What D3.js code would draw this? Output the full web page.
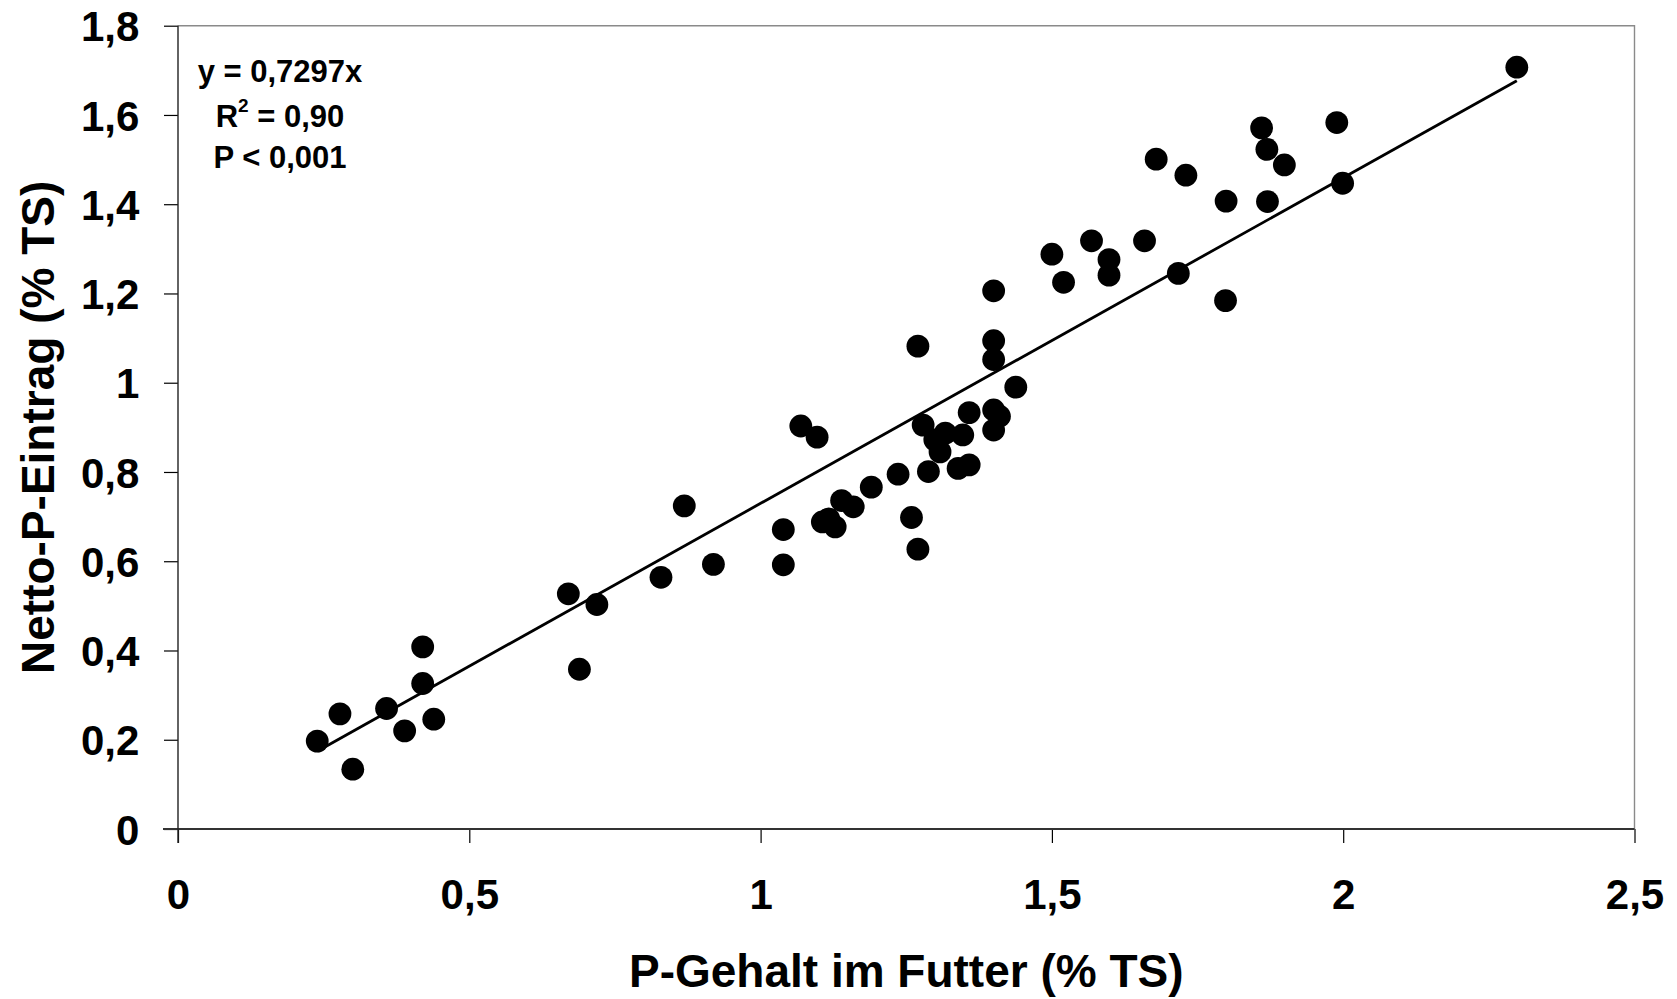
<!DOCTYPE html>
<html>
<head>
<meta charset="utf-8">
<script src="https://cdn.jsdelivr.net/npm/d3@7"></script>
<style>
  html, body { margin: 0; padding: 0; background: #fff; }
  svg { display: block; }
  text { font-family: "Liberation Sans", Arial, Helvetica, sans-serif; font-weight: bold; fill: #000; }
</style>
</head>
<body>
<script>
// ---- data ----
const xValues = [0.239,0.278,0.300,0.358,0.389,0.420,0.420,0.439,0.670,0.689,0.719,0.829,0.869,0.919,
  1.039,1.039,1.069,1.097,1.106,1.117,1.128,1.139,1.159,1.190,1.236,1.259,1.270,1.270,1.279,1.288,
  1.299,1.308,1.317,1.339,1.347,1.358,1.358,1.400,1.400,1.400,1.400,1.400,1.410,1.438,1.500,1.520,
  1.568,1.598,1.598,1.659,1.679,1.717,1.730,1.798,1.799,1.860,1.869,1.870,1.899,1.989,1.999,2.298];
const yValues = [0.197,0.258,0.134,0.270,0.220,0.408,0.326,0.246,0.527,0.358,0.503,0.564,0.724,0.593,
  0.671,0.592,0.903,0.878,0.688,0.695,0.677,0.736,0.722,0.766,0.795,0.698,0.627,1.082,0.905,0.801,
  0.872,0.845,0.887,0.808,0.883,0.933,0.816,1.206,1.094,1.052,0.939,0.894,0.925,0.990,1.288,1.225,
  1.318,1.276,1.241,1.318,1.501,1.245,1.465,1.184,1.407,1.571,1.523,1.406,1.488,1.583,1.447,1.707];
const slope = 0.7297;
const xTicks = [0, 0.5, 1, 1.5, 2, 2.5];
const xTickLabels = ["0", "0,5", "1", "1,5", "2", "2,5"];
const yTicks = [0, 0.2, 0.4, 0.6, 0.8, 1, 1.2, 1.4, 1.6, 1.8];
const yTickLabels = ["0", "0,2", "0,4", "0,6", "0,8", "1", "1,2", "1,4", "1,6", "1,8"];
const xTitle = "P-Gehalt im Futter (% TS)";
const yTitle = "Netto-P-Eintrag (% TS)";
const annEquation = "y = 0,7297x";
const annR2Value = " = 0,90";
const annP = "P < 0,001";

// ---- layout ----
const W = 1677, H = 999;
const L = 178, R = 1634.5, T = 25.7, B = 829;

const svg = d3.select("body").append("svg").attr("width", W).attr("height", H);

const x = d3.scaleLinear().domain([0, 2.5]).range([L, R]);
const y = d3.scaleLinear().domain([0, 1.8]).range([B, T]);

// plot border (top/right grey)
svg.append("path")
  .attr("d", `M${L},${T}H${R}V${B}`)
  .attr("fill", "none").attr("stroke", "#8a8a8a").attr("stroke-width", 1.4);

// x axis
const xAxis = d3.axisBottom(x).tickValues(xTicks)
  .tickFormat((d, i) => xTickLabels[i]).tickSize(14).tickSizeOuter(0);
const gx = svg.append("g").attr("transform", `translate(0,${B})`).call(xAxis);
gx.select(".domain").remove();
gx.selectAll(".tick line").attr("stroke", "#000").attr("stroke-width", 1.2);
gx.selectAll(".tick text").attr("y", 80).attr("dy", null)
  .style("font-size", "42px").attr("fill", "#000");

// y axis
const yAxis = d3.axisLeft(y).tickValues(yTicks)
  .tickFormat((d, i) => yTickLabels[i]).tickSize(14).tickSizeOuter(0);
const gy = svg.append("g").attr("transform", `translate(${L},0)`).call(yAxis);
gy.select(".domain").remove();
gy.selectAll(".tick line").attr("stroke", "#000").attr("stroke-width", 1.2);
gy.selectAll(".tick text").attr("x", -38.6).attr("dy", "0.36em")
  .style("font-size", "42px").attr("fill", "#000");

// axis lines
svg.append("line").attr("x1", L - 15).attr("x2", R).attr("y1", B).attr("y2", B)
  .attr("stroke", "#333").attr("stroke-width", 1.8);
svg.append("line").attr("x1", L).attr("x2", L).attr("y1", T).attr("y2", B + 14)
  .attr("stroke", "#222").attr("stroke-width", 1.4);

// trend line
const xMin = d3.min(xValues), xMax = d3.max(xValues);
svg.append("line")
  .attr("x1", x(xMin)).attr("y1", y(slope * xMin))
  .attr("x2", x(xMax)).attr("y2", y(slope * xMax))
  .attr("stroke", "#000").attr("stroke-width", 2.8);

// points
svg.append("g").selectAll("circle")
  .data(xValues.map((v, i) => [v, yValues[i]]))
  .join("circle")
  .attr("cx", d => x(d[0])).attr("cy", d => y(d[1]))
  .attr("r", 11.4).attr("fill", "#000");

// annotations
const ax = 280;
svg.append("text").attr("x", ax).attr("y", 81.5).attr("text-anchor", "middle")
  .style("font-size", "31px").text(annEquation);
const r2 = svg.append("text").attr("x", ax).attr("y", 127).attr("text-anchor", "middle")
  .style("font-size", "31px");
r2.append("tspan").text("R");
r2.append("tspan").attr("dy", -15).style("font-size", "19px").text("2");
r2.append("tspan").attr("dy", 15).text(annR2Value);
svg.append("text").attr("x", ax).attr("y", 167.5).attr("text-anchor", "middle")
  .style("font-size", "31px").text(annP);

// axis titles
svg.append("text").attr("x", (L + R) / 2).attr("y", 987).attr("text-anchor", "middle")
  .style("font-size", "46px").text(xTitle);
svg.append("text")
  .attr("transform", `translate(54,${(T + B) / 2}) rotate(-90)`)
  .attr("text-anchor", "middle")
  .style("font-size", "46px").text(yTitle);
</script>
</body>
</html>
